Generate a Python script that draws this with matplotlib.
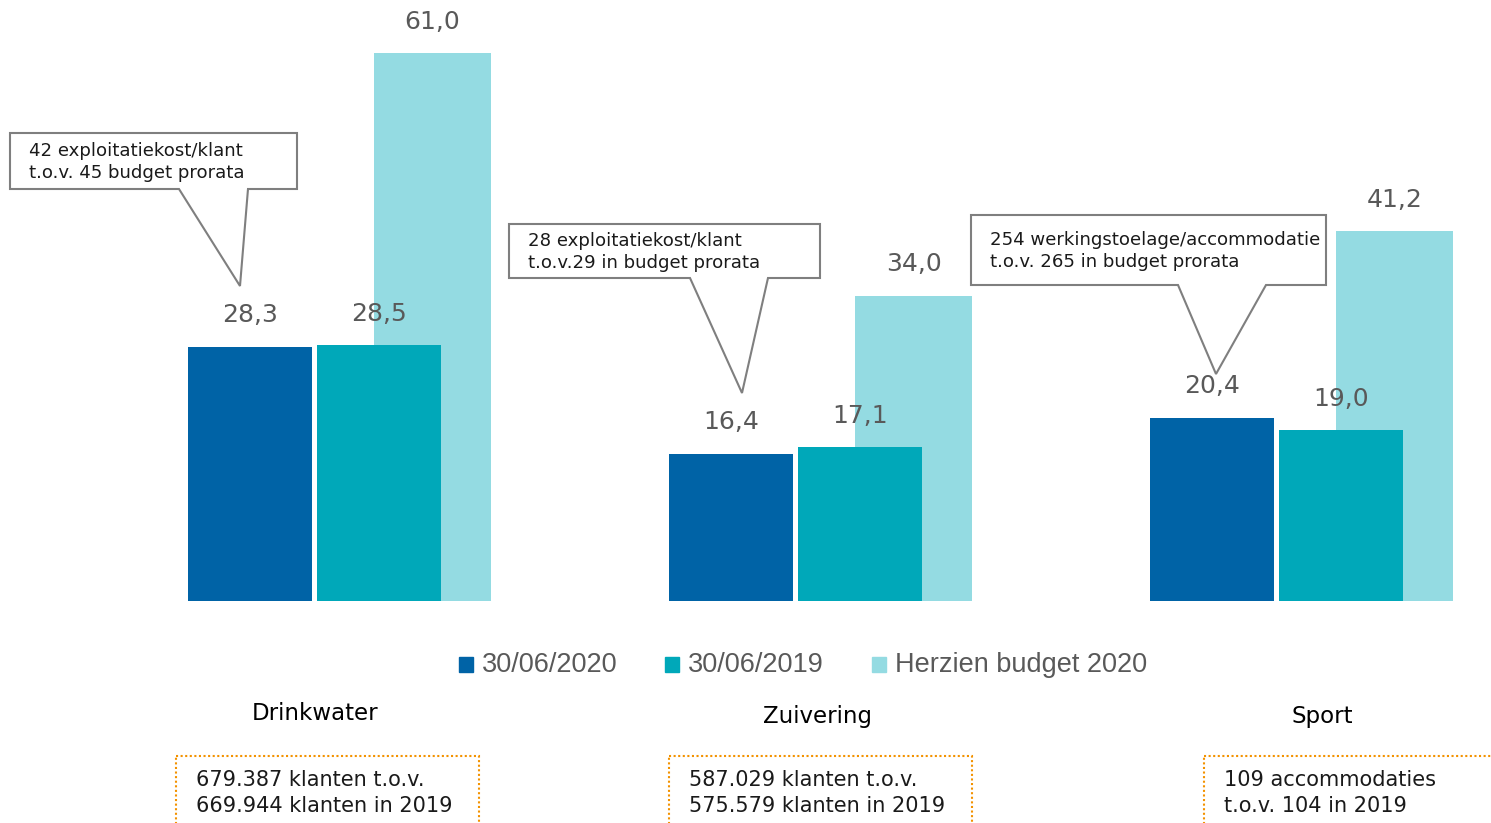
import matplotlib.pyplot as plt
from matplotlib.patches import Rectangle, Polygon
import numpy as np

categories = ['Drinkwater', 'Zuivering', 'Sport']
series = ['30/06/2020', '30/06/2019', 'Herzien budget 2020']
v2020 = [28.3, 16.4, 20.4]
v2019 = [28.5, 17.1, 19.0]
budget = [61.0, 34.0, 41.2]
colors = ['#0063A6', '#00A8B9', '#94DBE2']

callouts = ['42 exploitatiekost/klant\nt.o.v. 45 budget prorata',
            '28 exploitatiekost/klant\nt.o.v.29 in budget prorata',
            '254 werkingstoelage/accommodatie\nt.o.v. 265 in budget prorata']
notes = ['679.387 klanten t.o.v.\n669.944 klanten in 2019',
         '587.029 klanten t.o.v.\n575.579 klanten in 2019',
         '109 accommodaties\nt.o.v. 104 in 2019']

W, H = 1491, 823
fig = plt.figure(figsize=(W / 100, H / 100), dpi=100)

# bar axes: baseline at y=601px
ax = fig.add_axes([0, 1 - 601 / H, 1, 601 / H])
ax.set_xlim(-250 / 481, (W - 250) / 481)
ax.set_ylim(0, 601 / 8.98)
ax.axis('off')

x = np.arange(len(categories))
w = 124 / 481
ax.bar(x + 182.5 / 481, budget, 117 / 481, color=colors[2], zorder=1)
ax.bar(x, v2020, w, color=colors[0], zorder=2)
ax.bar(x + 129 / 481, v2019, w, color=colors[1], zorder=2)

def fmt(v):
    return f'{v:.1f}'.replace('.', ',')

lab_kw = dict(ha='center', va='center', fontsize=18, color='#595959', zorder=5)
for i in range(len(categories)):
    ax.text(x[i], v2020[i] + 3.5, fmt(v2020[i]), **lab_kw)
    ax.text(x[i] + 129 / 481, v2019[i] + 3.5, fmt(v2019[i]), **lab_kw)
    ax.text(x[i] + 182.5 / 481, budget[i] + 3.5, fmt(budget[i]), **lab_kw)

# overlay in pixel coordinates for callouts, legend, labels, boxes
ov = fig.add_axes([0, 0, 1, 1], zorder=10)
ov.set_xlim(0, W)
ov.set_ylim(H, 0)
ov.axis('off')
ov.patch.set_alpha(0)

boxes = [(10, 133, 297, 189, 179, 248, 240, 286),
         (509, 224, 820, 278, 690, 768, 742, 393),
         (971, 215, 1326, 285, 1178, 1266, 1216, 374)]
for (x0, y0, x1, y1, p0, p1, tx, ty), txt in zip(boxes, callouts):
    poly = Polygon([(x0, y0), (x1, y0), (x1, y1), (p1, y1), (tx, ty), (p0, y1), (x0, y1)],
                   closed=True, facecolor='white', edgecolor='#7f7f7f', lw=1.5)
    ov.add_patch(poly)
    ov.text(x0 + 19, (y0 + y1) / 2 + 1, txt, ha='left', va='center',
            fontsize=13.05, color='#1a1a1a', linespacing=1.3)

# legend
lx = [459, 665, 872]
for xx, s, c in zip(lx, series, colors):
    ov.add_patch(Rectangle((xx, 657), 14, 15, color=c))
    ov.text(xx + 23, 665, s, ha='left', va='center', fontsize=19.5, color='#595959',
            family='Liberation Sans')

# category labels
for xc, yc, c in zip([315, 818, 1322], [713, 716, 716], categories):
    ov.text(xc, yc, c, ha='center', va='center', fontsize=16.5, color='black')

# bottom note boxes
for (bx0, bx1), txt in zip([(176, 479), (669, 972), (1204, 1520)], notes):
    ov.add_patch(Rectangle((bx0, 756), bx1 - bx0, 100, fill=False,
                           edgecolor='#F39200', lw=1.5, ls=(0, (1, 1.2))))
    ov.text(bx0 + 20, 793, txt, ha='left', va='center', fontsize=15,
            color='#1a1a1a', linespacing=1.4)

fig.savefig('out.png', dpi=100)
